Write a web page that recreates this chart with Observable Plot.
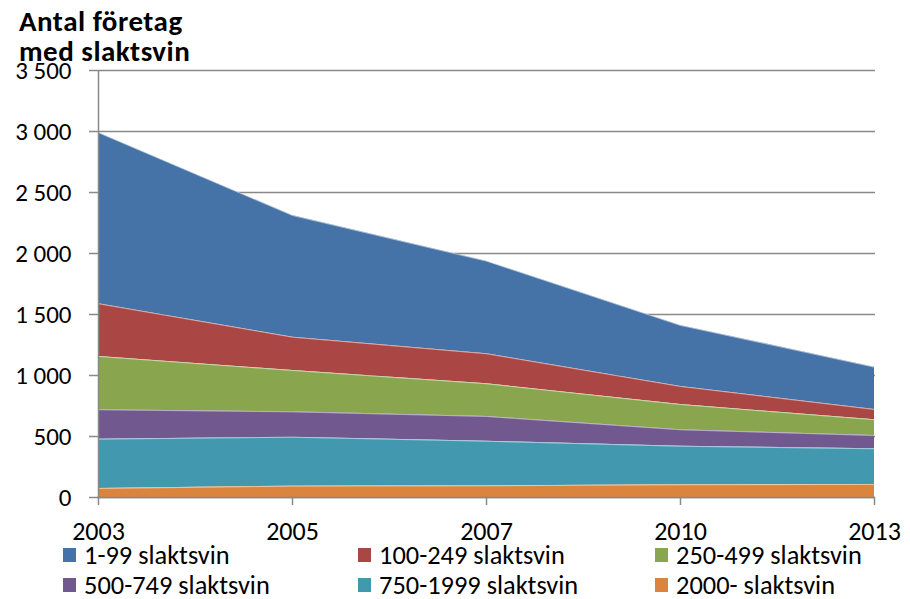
<!DOCTYPE html>
<html>
<head>
<meta charset="utf-8">
<script src="https://cdn.jsdelivr.net/npm/d3@7"></script>
<script src="https://cdn.jsdelivr.net/npm/@observablehq/plot@0.6"></script>
<style>
  html, body { margin: 0; padding: 0; background: #fff; }
  #wrap { position: relative; width: 910px; font-family: Carlito, Calibri, Lato, sans-serif; color: #000; }
  #title { height: 62px; box-sizing: border-box; padding: 6px 0 0 19px; font-weight: bold; font-size: 29px; letter-spacing: 0.5px; line-height: 30px; overflow: visible; white-space: nowrap; }
  #legend { display: grid; grid-template-columns: 295px 297px 250px; padding-left: 63px; padding-top: 1px; font-size: 26.4px; line-height: 1; }
  .item { height: 30px; display: flex; align-items: center; white-space: nowrap; }
  .sw { width: 13px; height: 14px; margin-right: 8px; flex: none; }
</style>
</head>
<body>
<div id="wrap">
  <div id="title">Antal företag<br>med slaktsvin</div>
  <div id="chart"></div>
  <div id="legend"></div>
</div>
<script>
const years = ["2003", "2005", "2007", "2010", "2013"];
const seriesNames = ["1-99 slaktsvin", "100-249 slaktsvin", "250-499 slaktsvin", "500-749 slaktsvin", "750-1999 slaktsvin", "2000- slaktsvin"];
const seriesColors = ["#4572A7", "#AA4643", "#89A54E", "#71588F", "#4198AF", "#DB843D"];
const v1_99 = [1402, 997, 759, 500, 347];
const v100_249 = [432, 273, 246, 148, 84];
const v250_499 = [437, 339, 268, 207, 129];
const v500_749 = [241, 208, 203, 135, 109];
const v750_1999 = [404, 401, 365, 316, 292];
const v2000 = [74, 93, 96, 104, 107];
const yTicks = [0, 500, 1000, 1500, 2000, 2500, 3000, 3500];

const seriesValues = [v1_99, v100_249, v250_499, v500_749, v750_1999, v2000];
const table = [];
seriesNames.forEach((s, i) => years.forEach((y, j) => table.push({year: y, series: s, value: seriesValues[i][j]})));
const stackOrder = seriesNames.slice().reverse();

const fmt = d3.formatLocale({decimal: ",", thousands: " ", grouping: [3], currency: ["", ""]}).format(",d");
const gray = "#898989";
const font = "Carlito, Calibri, Lato, sans-serif";

const plot = Plot.plot({
  width: 910,
  height: 477,
  marginTop: 8,
  marginBottom: 42,
  marginLeft: 97,
  marginRight: 35,
  style: {fontFamily: font, fontSize: "25px", overflow: "visible", background: "transparent", color: "#000"},
  x: {type: "point", domain: years, padding: 0, label: null},
  y: {domain: [0, 3500], label: null},
  color: {domain: seriesNames, range: seriesColors},
  marks: [
    Plot.gridY(yTicks, {stroke: gray, strokeOpacity: 1, strokeWidth: 1.5}),
    Plot.areaY(table, {x: "year", y: "value", fill: "series", order: stackOrder}),
    Plot.lineY(table, Plot.stackY2({x: "year", y: "value", z: "series", order: stackOrder, stroke: "#ffffff", strokeOpacity: 0.5, strokeWidth: 1})),
    Plot.ruleX([years[0]], {stroke: gray, strokeWidth: 1.5}),
    Plot.ruleY([0], {stroke: gray, strokeWidth: 1.5}),
    Plot.axisY({ticks: yTicks, tickFormat: fmt, tickSize: 8, tickPadding: 18, stroke: gray, strokeWidth: 1.5, label: null, fontSize: 25}),
    Plot.axisX({tickSize: 8, tickPadding: 16, stroke: gray, strokeWidth: 1.5, label: null, fontSize: 26})
  ]
});
document.getElementById("chart").appendChild(plot);

const legend = document.getElementById("legend");
seriesNames.forEach((s, i) => {
  const it = document.createElement("div");
  it.className = "item";
  const sw = document.createElement("span");
  sw.className = "sw";
  sw.style.background = seriesColors[i];
  it.appendChild(sw);
  it.appendChild(document.createTextNode(s));
  legend.appendChild(it);
});
</script>
</body>
</html>
